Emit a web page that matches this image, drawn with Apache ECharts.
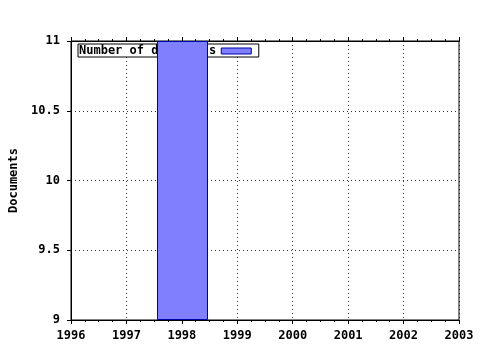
<!DOCTYPE html>
<html><head><meta charset="utf-8">
<style>html,body{margin:0;padding:0;background:#fff}#c{width:480px;height:350px}</style>
<script src="https://cdn.jsdelivr.net/npm/echarts@6/dist/echarts.min.js"></script>
</head><body><div id="c"></div>
<script>
var years = [1998];
var documents = [11];
var xTicks = [1996, 1997, 1998, 1999, 2000, 2001, 2002, 2003];
var yTicks = [9, 9.5, 10, 10.5, 11];
var seriesName = 'Number of documents';
var yTitle = 'Documents';

var FONT = '"DejaVu Sans Mono", monospace';
var chart = echarts.init(document.getElementById('c'));
var data = years.map(function (y, i) { return [y, documents[i]]; });
chart.setOption({
  animation: false,
  backgroundColor: '#fff',
  grid: { left: 71, right: 21, top: 41, bottom: 30, containLabel: false, outerBoundsMode: 'none', show: true, borderColor: '#000', borderWidth: 1, backgroundColor: 'transparent' },
  legend: {
    z: 1,
    left: 78, top: 44,
    orient: 'horizontal',
    align: 'right',
    padding: [1, 7, 0, 1],
    backgroundColor: '#fff',
    borderColor: '#000', borderWidth: 1,
    itemWidth: 30, itemHeight: 6, itemGap: 3,
    icon: 'rect',
    textStyle: { fontFamily: FONT, fontWeight: 'bold', fontSize: 12, color: '#000', lineHeight: 12, padding: [0, 0, 0, 0] },
    data: [{ name: seriesName, itemStyle: { color: '#8080ff', borderColor: '#0000aa', borderWidth: 1 } }]
  },
  xAxis: [{
    type: 'value', min: xTicks[0], max: xTicks[xTicks.length - 1], interval: 1,
    position: 'bottom',
    axisLine: { lineStyle: { color: '#000', width: 1 } },
    axisTick: { show: true, inside: false, length: 4, lineStyle: { color: '#000' } },
    minorTick: { show: true, splitNumber: 4, length: 2, lineStyle: { color: '#000' } },
    splitLine: { show: true, lineStyle: { color: '#333', type: [1, 3], width: 1 } },
    axisLabel: { fontFamily: FONT, fontWeight: 'bold', fontSize: 12, color: '#000', margin: 10, formatter: function (v) { return String(v); } }
  }, {
    type: 'value', min: xTicks[0], max: xTicks[xTicks.length - 1], interval: 1,
    position: 'top',
    axisLine: { lineStyle: { color: '#000', width: 1 } },
    axisTick: { show: true, inside: false, length: 4, lineStyle: { color: '#000' } },
    minorTick: { show: true, splitNumber: 4, length: 2, lineStyle: { color: '#000' } },
    splitLine: { show: false },
    axisLabel: { show: false }
  }],
  yAxis: {
    type: 'value', min: yTicks[0], max: yTicks[yTicks.length - 1], interval: 0.5,
    name: yTitle, nameLocation: 'middle', nameGap: 50, nameRotate: 90,
    nameTextStyle: { fontFamily: FONT, fontWeight: 'bold', fontSize: 12, color: '#000' },
    axisLine: { show: true, lineStyle: { color: '#000', width: 1 } },
    axisTick: { show: true, inside: false, length: 4, lineStyle: { color: '#000' } },
    splitLine: { show: true, lineStyle: { color: '#333', type: [1, 3], width: 1 } },
    axisLabel: { fontFamily: FONT, fontWeight: 'bold', fontSize: 12, color: '#000', margin: 11, formatter: function (v) { return String(v); } }
  },
  series: [{
    name: seriesName,
    type: 'custom',
    z: 10,
    clip: true,
    itemStyle: { color: '#8080ff', borderColor: '#0000aa', borderWidth: 1 },
    renderItem: function (params, api) {
      var x = api.value(0), y = api.value(1);
      var p0 = api.coord([x - 0.45, y]);
      var p1 = api.coord([x + 0.45, yTicks[0]]);
      return {
        type: 'rect',
        shape: { x: Math.round(p0[0]) + 0.5, y: Math.round(p0[1]) + 0.5, width: Math.round(p1[0] - p0[0]), height: Math.round(p1[1] - p0[1]) - 1 },
        style: { fill: '#8080ff', stroke: '#0000aa', lineWidth: 1 }
      };
    },
    encode: { x: 0, y: 1 },
    data: data
  }]
});
</script></body></html>
